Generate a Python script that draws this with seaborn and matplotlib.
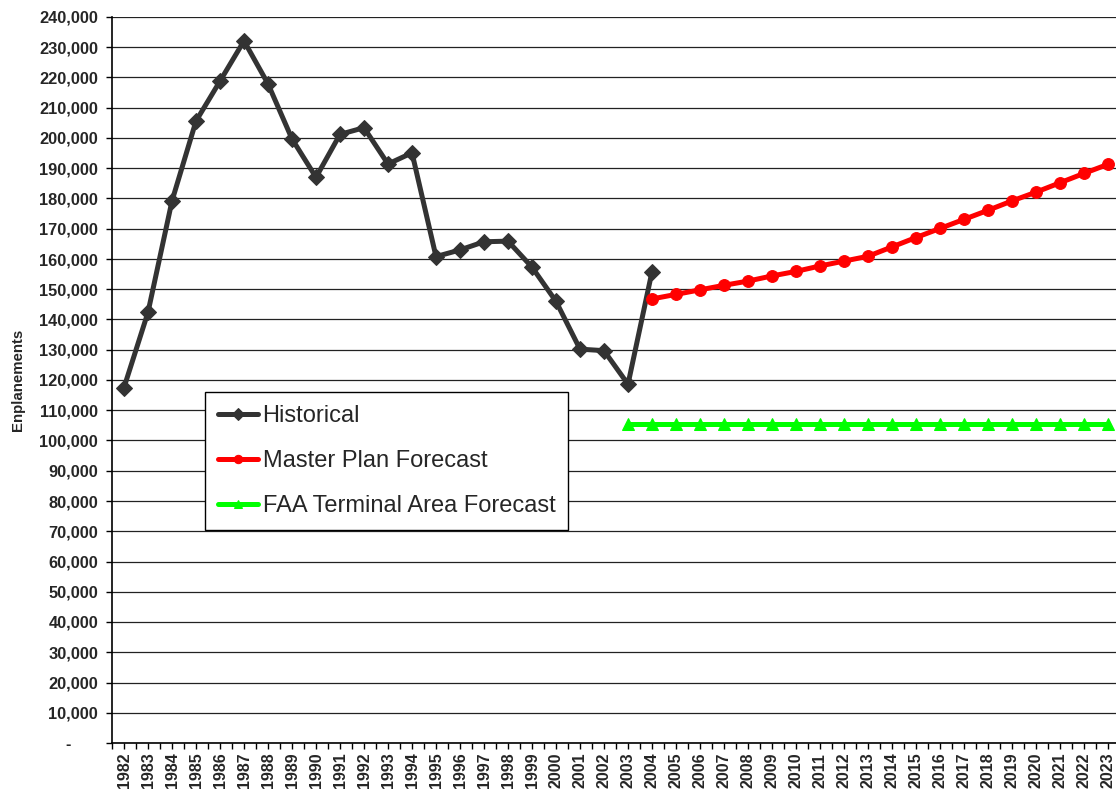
# Enplanements: historical vs. forecasts
import numpy as np
import pandas as pd
import matplotlib.pyplot as plt
import seaborn as sns
from matplotlib.ticker import FuncFormatter, MultipleLocator

sns.set_style('white')
plt.rcParams['font.family'] = ['Liberation Sans', 'DejaVu Sans']

# Data
years = list(range(1982, 2024))

hist_years = list(range(1982, 2005))
historical = [117500, 142400, 179200, 205600, 218800, 232100, 217900, 199700,
              187000, 201200, 203400, 191400, 195100, 160800, 163000, 165700,
              165900, 157300, 146000, 130200, 129700, 118600, 155800]

plan_years = list(range(2004, 2024))
master_plan = [146800, 148300, 149800, 151300, 152700, 154400, 155900, 157700,
               159300, 160900, 164000, 167100, 170100, 173100, 176100, 179200,
               182100, 185200, 188300, 191300]

faa_years = list(range(2003, 2024))
faa_tac = [105600, 105600, 105600, 105600, 105600, 105600, 105600, 105600,
           105600, 105600, 105600, 105600, 105600, 105600, 105600, 105600,
           105600, 105600, 105600, 105600, 105600]

df_hist = pd.DataFrame({'year': hist_years, 'value': historical})
df_plan = pd.DataFrame({'year': plan_years, 'value': master_plan})
df_faa = pd.DataFrame({'year': faa_years, 'value': faa_tac})

fig = plt.figure(figsize=(11.16, 7.89), dpi=100)
ax = fig.add_axes([112 / 1116, 1 - 743 / 789, 1008 / 1116, 726 / 789])

sns.lineplot(data=df_hist, x='year', y='value', ax=ax, color='#333333', lw=3.6,
             marker='D', markersize=8, markeredgecolor='#333333',
             label='Historical')
sns.lineplot(data=df_plan, x='year', y='value', ax=ax, color='#ff0000', lw=3.6,
             marker='o', markersize=8.5, markeredgecolor='#ff0000',
             label='Master Plan Forecast')
sns.lineplot(data=df_faa, x='year', y='value', ax=ax, color='#00ff00', lw=3.6,
             marker='^', markersize=9, markeredgecolor='#00ff00',
             label='FAA Terminal Area Forecast')

# Axes / grid
ax.set_xlim(1981.5, 2023.5)
ax.set_ylim(0, 240000)
ax.yaxis.set_major_locator(MultipleLocator(10000))
ax.yaxis.set_major_formatter(FuncFormatter(lambda v, p: '-      ' if v == 0 else f'{int(v):,}'))
ax.set_xticks(years)
ax.set_xticklabels([str(y) for y in years], rotation=90)
ax.set_xticks([y + 0.5 for y in years[:-1]] + [1981.5], minor=True)

ax.grid(axis='y', color='#222222', lw=0.9)
ax.grid(axis='x', visible=False)
ax.set_axisbelow(True)
for s in ['top', 'right']:
    ax.spines[s].set_visible(False)
for s in ['left', 'bottom']:
    ax.spines[s].set_color('black')
    ax.spines[s].set_linewidth(1.2)

ax.tick_params(axis='both', which='both', direction='out', length=4, width=1, color='black')
ax.tick_params(axis='y', labelsize=11.8, pad=6, left=True)
ax.tick_params(axis='x', which='both', bottom=True, labelsize=11.5, pad=3)
for lbl in ax.get_xticklabels() + ax.get_yticklabels():
    lbl.set_fontweight('bold')

ax.set_xlabel('')
ax.set_ylabel('Enplanements', fontsize=10.8, fontweight='bold', labelpad=10)

leg = ax.legend(loc='upper left', bbox_to_anchor=(0.092, 0.4835), borderaxespad=0,
                fontsize=17, frameon=True, fancybox=False, edgecolor='black',
                framealpha=1, handlelength=1.7, handletextpad=0.2,
                labelspacing=0.97, borderpad=0.55)
leg.get_frame().set_linewidth(1.0)
for h in leg.legend_handles:
    h.set_markersize(6)

plt.savefig('out.png', dpi=100)
